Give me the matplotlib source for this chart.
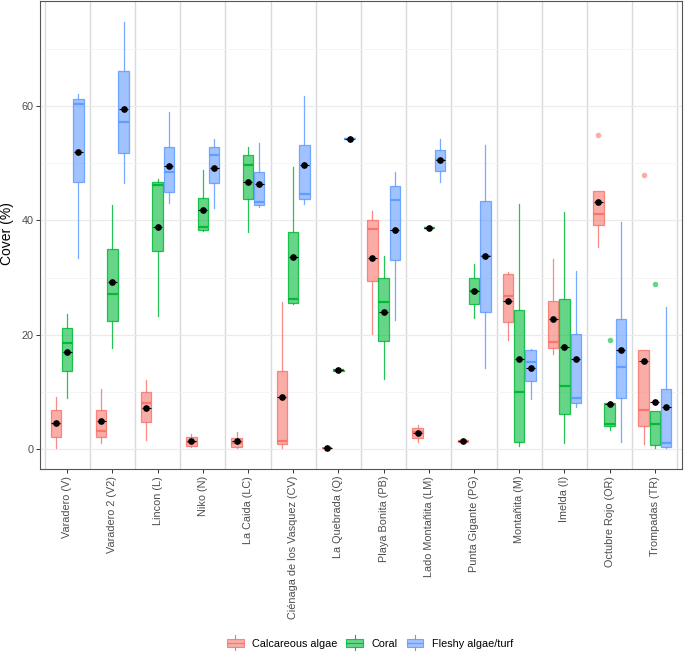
import matplotlib
matplotlib.use("Agg")
import matplotlib.pyplot as plt
import numpy as np
from matplotlib.colors import to_rgba
from matplotlib.legend_handler import HandlerBase
from matplotlib.patches import Rectangle, Patch
from matplotlib.lines import Line2D

plt.rcParams['font.family'] = ['Liberation Sans', 'DejaVu Sans']

sites = ["Varadero (V)", "Varadero 2 (V2)", "Lincon (L)", "Niko (N)", "La Caida (LC)",
         "Ciénaga de los Vasquez (CV)", "La Quebrada (Q)", "Playa Bonita (PB)",
         "Lado Montañita (LM)", "Punta Gigante (PG)", "Montañita (M)", "Imelda (I)",
         "Octubre Rojo (OR)", "Trompadas (TR)"]
groups = ["Calcareous algae", "Coral", "Fleshy algae/turf"]
colors = ["#F8766D", "#00BA38", "#619CFF"]

# calcareous algae
calc_whislo = [0.1, 1.1, 1.6, 0.3, 0.2, 0.1, 0.1, 20.2, 1.3, 1.0, 19.1, 16.6, 35.4, 0.8]
calc_q1 = [2.15, 2.05, 4.67, 0.5, 0.4, 0.8, 0.15, 29.4, 2.0, 1.15, 22.2, 17.6, 39.2, 4.1]
calc_med = [4.4, 3.15, 8.0, 1.2, 1.0, 1.45, 0.2, 38.5, 2.9, 1.35, 26.8, 18.8, 41.2, 6.8]
calc_q3 = [6.8, 6.8, 10.0, 2.05, 1.9, 13.7, 0.25, 40.1, 3.6, 1.65, 30.6, 25.9, 45.1, 17.4]
calc_whishi = [9.15, 10.5, 12.1, 2.6, 2.9, 25.8, 0.3, 41.6, 4.2, 1.8, 31.0, 33.2, 45.1, 17.4]
calc_mean = [4.5, 4.9, 7.1, 1.45, 1.4, 9.15, 0.2, 33.5, 2.85, 1.4, 25.95, 22.75, 43.2, 15.45]
calc_fliers = [[], [], [], [], [], [], [], [], [], [], [], [], [54.9], [48.0]]

# coral
coral_whislo = [8.9, 17.7, 23.3, 38.1, 37.9, 25.3, 13.6, 12.2, 38.6, 23.0, 0.5, 1.0, 3.3, 0.1]
coral_q1 = [13.6, 22.45, 34.7, 38.3, 43.7, 25.6, 13.7, 18.95, 38.65, 25.3, 1.2, 6.1, 4.1, 0.7]
coral_med = [18.6, 27.2, 46.2, 38.9, 49.7, 26.2, 13.8, 25.8, 38.75, 27.7, 9.9, 11.1, 4.4, 4.4]
coral_q3 = [21.1, 35.0, 46.8, 43.9, 51.4, 37.9, 13.9, 29.9, 38.85, 30.0, 24.4, 26.2, 8.0, 6.7]
coral_whishi = [23.7, 42.7, 47.2, 48.8, 52.9, 49.4, 14.0, 33.8, 38.9, 32.3, 42.8, 41.4, 8.0, 6.7]
coral_mean = [17.0, 29.2, 38.9, 41.9, 46.8, 33.6, 13.8, 23.9, 38.75, 27.6, 15.75, 17.8, 7.8, 8.2]
coral_fliers = [[], [], [], [], [], [], [], [], [], [], [], [], [19.0], [28.8]]

# fleshy algae / turf
fleshy_whislo = [33.4, 46.5, 43.0, 42.1, 42.3, 42.8, 54.2, 22.6, 46.8, 14.2, 8.7, 7.3, 1.2, 0.1]
fleshy_q1 = [46.8, 51.8, 44.9, 46.6, 42.7, 43.7, 54.25, 33.0, 48.6, 23.9, 11.9, 8.0, 8.9, 0.3]
fleshy_med = [60.4, 57.2, 48.5, 51.4, 43.2, 44.6, 54.3, 43.6, 50.5, 33.7, 15.3, 9.0, 14.3, 1.1]
fleshy_q3 = [61.2, 66.1, 52.9, 52.8, 48.4, 53.2, 54.35, 46.0, 52.3, 43.4, 17.3, 20.1, 22.75, 10.5]
fleshy_whishi = [62.1, 74.8, 58.9, 54.2, 53.6, 61.8, 54.4, 48.4, 54.2, 53.2, 17.5, 31.1, 39.8, 24.8]
fleshy_mean = [52.0, 59.5, 49.6, 49.2, 46.4, 49.7, 54.3, 38.3, 50.5, 33.7, 14.1, 15.7, 17.3, 7.3]
fleshy_fliers = [[]] * 14

series = [
    (calc_whislo, calc_q1, calc_med, calc_q3, calc_whishi, calc_mean, calc_fliers),
    (coral_whislo, coral_q1, coral_med, coral_q3, coral_whishi, coral_mean, coral_fliers),
    (fleshy_whislo, fleshy_q1, fleshy_med, fleshy_q3, fleshy_whishi, fleshy_mean, fleshy_fliers),
]


class HandlerMiniBox(HandlerBase):
    def create_artists(self, legend, orig_handle, xdescent, ydescent, width, height, fontsize, trans):
        c = orig_handle.get_facecolor()
        col = to_rgba(c, 1)
        bh = height * 0.75
        y0 = -ydescent + (height - bh) / 2
        rect = Rectangle((-xdescent, y0), width, bh, facecolor=to_rgba(col, 0.6),
                         edgecolor=to_rgba(col, 0.85), lw=0.8, transform=trans)
        med = Line2D([-xdescent, -xdescent + width], [y0 + bh / 2] * 2, color=col, lw=0.8, transform=trans)
        wl = Line2D([-xdescent + width / 2] * 2, [y0 - height * 0.3, y0], color=col, lw=0.8, transform=trans)
        wh = Line2D([-xdescent + width / 2] * 2, [y0 + bh, y0 + bh + height * 0.3], color=col, lw=0.8, transform=trans)
        return [rect, med, wl, wh]


fig = plt.figure(figsize=(6.85, 6.53), dpi=100)
ax = fig.add_axes([40 / 685, 1 - 469 / 653, 642 / 685, 468 / 653])

x = np.arange(1, len(sites) + 1)
offsets = [-0.25, 0, 0.25]

for k in range(len(sites)):
    ax.axvline(x[k] + 0.5, color="#DADADA", lw=1.0, zorder=0.5)
ax.axvline(0.5, color="#DADADA", lw=1.0, zorder=0.5)

for g, (wlo, q1, med, q3, whi, mean, fl) in enumerate(series):
    col = colors[g]
    stats = []
    for i in range(len(sites)):
        stats.append(dict(whislo=wlo[i], q1=q1[i], med=med[i], q3=q3[i], whishi=whi[i], fliers=fl[i]))
    pos = x + offsets[g]
    ax.bxp(stats, positions=pos, widths=0.23, patch_artist=True, showcaps=False,
           boxprops=dict(facecolor=to_rgba(col, 0.6), edgecolor=to_rgba(col, 0.85), lw=0.9),
           medianprops=dict(color=col, lw=1.6),
           whiskerprops=dict(color=to_rgba(col, 0.85), lw=0.9),
           flierprops=dict(marker='o', markerfacecolor=to_rgba(col, 0.6), markeredgecolor='none', markersize=4),
           manage_ticks=False, zorder=2)
    ax.hlines(mean, pos - 0.1, pos + 0.1, color='black', lw=0.8, zorder=3)
    ax.plot(pos, mean, 'o', color='black', markersize=3.8, zorder=4)

ax.set_xlim(0.4, 14.6)
ax.set_ylim(-3.5, 78.4)
ax.set_yticks([0, 20, 40, 60])
ax.set_yticks([10, 30, 50, 70], minor=True)
ax.grid(axis='y', which='major', color="#EBEBEB", lw=0.9, zorder=0)
ax.grid(axis='y', which='minor', color="#F4F4F4", lw=0.6, zorder=0)
ax.set_axisbelow(True)
ax.set_xticks(x)
ax.set_xticklabels(sites, rotation=90, fontsize=7.8, color="#4D4D4D", va='top', ha='center')
ax.tick_params(axis='y', which='major', labelsize=7.8, labelcolor="#4D4D4D", length=3.2, width=0.7, color="#333333", pad=1.5)
ax.tick_params(axis='y', which='minor', length=0)
ax.tick_params(axis='x', length=3.0, width=0.7, color="#333333", pad=2)
for s in ax.spines.values():
    s.set_color("#555555")
    s.set_linewidth(0.8)

fig.text(7.5 / 685, 1 - 234 / 653, "Cover (%)", rotation=90, ha='center', va='center', fontsize=10)

handles = [Patch(facecolor=c) for c in colors]
fig.legend(handles, groups, loc='center', bbox_to_anchor=(370 / 685, 1 - 643 / 653), ncol=3,
           frameon=False, fontsize=7.8, handlelength=1.55, handleheight=1.2, handletextpad=0.8,
           columnspacing=0.8, handler_map={Patch: HandlerMiniBox()})

fig.savefig("out.png", dpi=100)
